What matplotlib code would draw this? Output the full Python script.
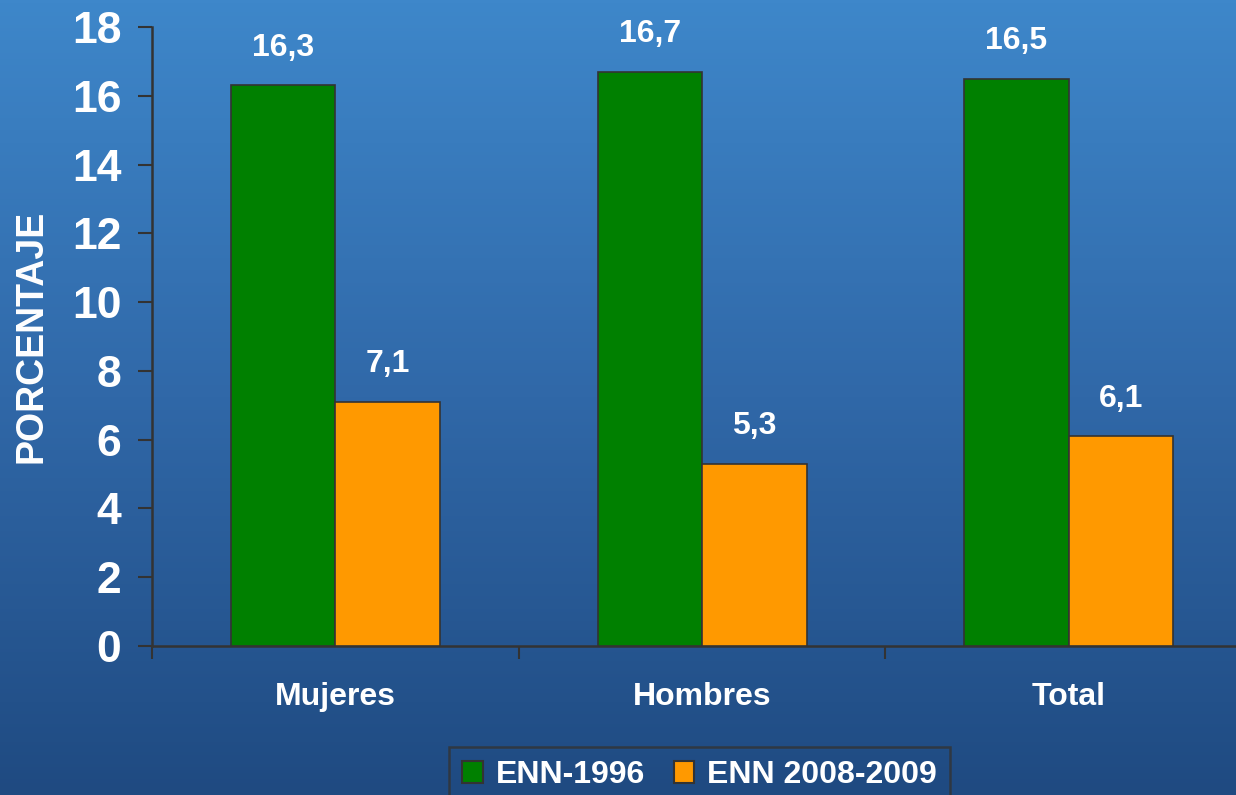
import numpy as np
import matplotlib
matplotlib.use("Agg")
import matplotlib.pyplot as plt
from matplotlib import font_manager
from matplotlib.colors import LinearSegmentedColormap
from matplotlib.patches import Patch

categories = ['Mujeres', 'Hombres', 'Total']
enn_1996 = [16.3, 16.7, 16.5]
enn_2008 = [7.1, 5.3, 6.1]
series_names = ['ENN-1996', 'ENN 2008-2009']
yticks = [0, 2, 4, 6, 8, 10, 12, 14, 16, 18]

# Liberation Sans Bold (Arial-like)
bold_path = None
for f in font_manager.findSystemFonts():
    if f.endswith('LiberationSans-Bold.ttf'):
        bold_path = f
        break

def fp(size):
    if bold_path:
        return font_manager.FontProperties(fname=bold_path, size=size)
    return font_manager.FontProperties(family='DejaVu Sans', weight='bold', size=size)

fig = plt.figure(figsize=(12.36, 7.95), dpi=100)

# background gradient
bg = fig.add_axes([0, 0, 1, 1], zorder=-10)
grad = np.linspace(0, 1, 256).reshape(-1, 1)
cmap = LinearSegmentedColormap.from_list('bg', ['#3e87ca', '#3068a8', '#1f4a81'])
bg.imshow(grad, aspect='auto', cmap=cmap, extent=[0, 1, 0, 1], origin='upper')
bg.axis('off')

ax = fig.add_axes([0.123, 0.1874, 0.89, 0.7786])
ax.patch.set_alpha(0)

x = np.arange(len(categories))
w = 0.285
green = '#008000'
orange = '#ff9900'
edge = '#333333'
b1 = ax.bar(x - w / 2, enn_1996, w, color=green, edgecolor=edge, linewidth=1.2, zorder=3)
b2 = ax.bar(x + w / 2, enn_2008, w, color=orange, edgecolor=edge, linewidth=1.2, zorder=3)

for bars, vals in [(b1, enn_1996), (b2, enn_2008)]:
    for r, v in zip(bars, vals):
        ax.annotate(('%.1f' % v).replace('.', ','), (r.get_x() + r.get_width() / 2, v),
                    xytext=(0, 27), textcoords='offset points', ha='center', va='center',
                    color='white', fontproperties=fp(23))

ax.set_xlim(-0.5, len(categories) - 0.5)
ax.set_ylim(0, 18)
ax.set_yticks(yticks)
ax.set_yticklabels([str(t) for t in yticks], color='white', fontproperties=fp(32))
ax.set_xticks(x)
ax.set_xticklabels(categories, color='white', fontproperties=fp(23))
ax.tick_params(axis='x', length=0, pad=26)
ax.set_xticks([-0.5, 0.5, 1.5, 2.5], minor=True)
ax.tick_params(axis='x', which='minor', length=9, width=1.5, color=edge)
ax.tick_params(axis='y', length=10, width=1.5, color=edge, pad=12)

for s in ['top', 'right']:
    ax.spines[s].set_visible(False)
for s in ['left', 'bottom']:
    ax.spines[s].set_color(edge)
    ax.spines[s].set_linewidth(1.8)

ax.set_ylabel('PORCENTAJE', color='white', fontproperties=fp(27), labelpad=16)

handles = [Patch(facecolor=green, edgecolor=edge, linewidth=1.5),
           Patch(facecolor=orange, edgecolor=edge, linewidth=1.5)]
leg = fig.legend(handles, series_names, loc='lower center', bbox_to_anchor=(0.566, -0.03),
                 ncol=2, frameon=True, prop=fp(23), handlelength=0.65, handleheight=0.65,
                 handletextpad=0.4, columnspacing=0.9, borderpad=0.4)
leg.get_frame().set_facecolor('none')
leg.get_frame().set_edgecolor('#333333')
leg.get_frame().set_linewidth(1.8)
leg.get_frame().set_boxstyle('square', pad=0)
for t in leg.get_texts():
    t.set_color('white')

fig.savefig('out.png', dpi=100)
